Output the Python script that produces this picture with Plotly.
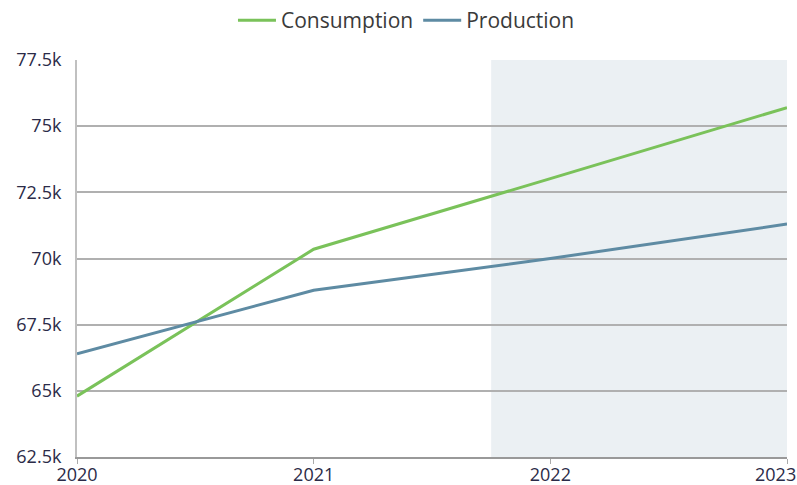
import plotly.graph_objects as go

years = [2020, 2021, 2022, 2023]
x_tick_labels = ["2020", "2021", "2022", "2023"]
consumption = [64800, 70350, 73020, 75700]
production = [66400, 68800, 70000, 71300]
y_ticks = [62500, 65000, 67500, 70000, 72500, 75000, 77500]
y_tick_labels = ["62.5k", "65k", "67.5k", "70k", "72.5k", "75k", "77.5k"]
forecast_start = 2021.75

FONT = "Open Sans, Noto Sans, sans-serif"
TICKCOL = "#2b2b48"

fig = go.Figure()
fig.add_vrect(x0=forecast_start, x1=years[-1], fillcolor="#ebf0f3", line_width=0, layer="below")
fig.add_trace(go.Scatter(x=years, y=consumption, name="Consumption", mode="lines",
                         line=dict(color="#7ac25a", width=3)))
fig.add_trace(go.Scatter(x=years, y=production, name="Production", mode="lines",
                         line=dict(color="#5e8ba3", width=3)))

# last x label drawn shifted left so it fits inside the page, as in the reference
fig.add_annotation(x=years[-1], y=0, xref="x", yref="paper", text=x_tick_labels[-1],
                   showarrow=False, xanchor="right", yanchor="top", xshift=11, yshift=-3,
                   font=dict(family=FONT, size=18, color=TICKCOL))

fig.update_layout(
    width=797, height=485,
    margin=dict(l=77, r=10, t=60, b=28, autoexpand=False),
    paper_bgcolor="white", plot_bgcolor="white",
    font=dict(family=FONT, color=TICKCOL, size=18),
    legend=dict(orientation="h", x=0.51, xanchor="center", xref="container",
                y=1.0, yanchor="top", yref="container",
                font=dict(family=FONT, size=21, color="#3a3a3a"),
                traceorder="normal", itemwidth=38),
    showlegend=True,
)
fig.update_xaxes(range=[years[0], years[-1]], tickvals=years,
                 ticktext=x_tick_labels[:-1] + [""],
                 showgrid=False, showline=True, linecolor="#999", linewidth=2,
                 ticks="outside", ticklen=5, tickcolor="#aaa", tickwidth=1,
                 ticklabelstandoff=-5,
                 tickfont=dict(family=FONT, size=18, color=TICKCOL), zeroline=False,
                 automargin=False)
fig.update_yaxes(range=[y_ticks[0], y_ticks[-1]], tickvals=y_ticks, ticktext=y_tick_labels,
                 showgrid=True, gridcolor="#b0b0b0", gridwidth=2,
                 showline=True, linecolor="#c0c0c0", linewidth=2,
                 ticks="outside", ticklen=10, tickcolor="rgba(0,0,0,0)",
                 tickfont=dict(family=FONT, size=18, color=TICKCOL), zeroline=False,
                 automargin=False)

fig.write_html("out.html", config={"displayModeBar": False},
               post_script="document.body.style.margin='0';")
